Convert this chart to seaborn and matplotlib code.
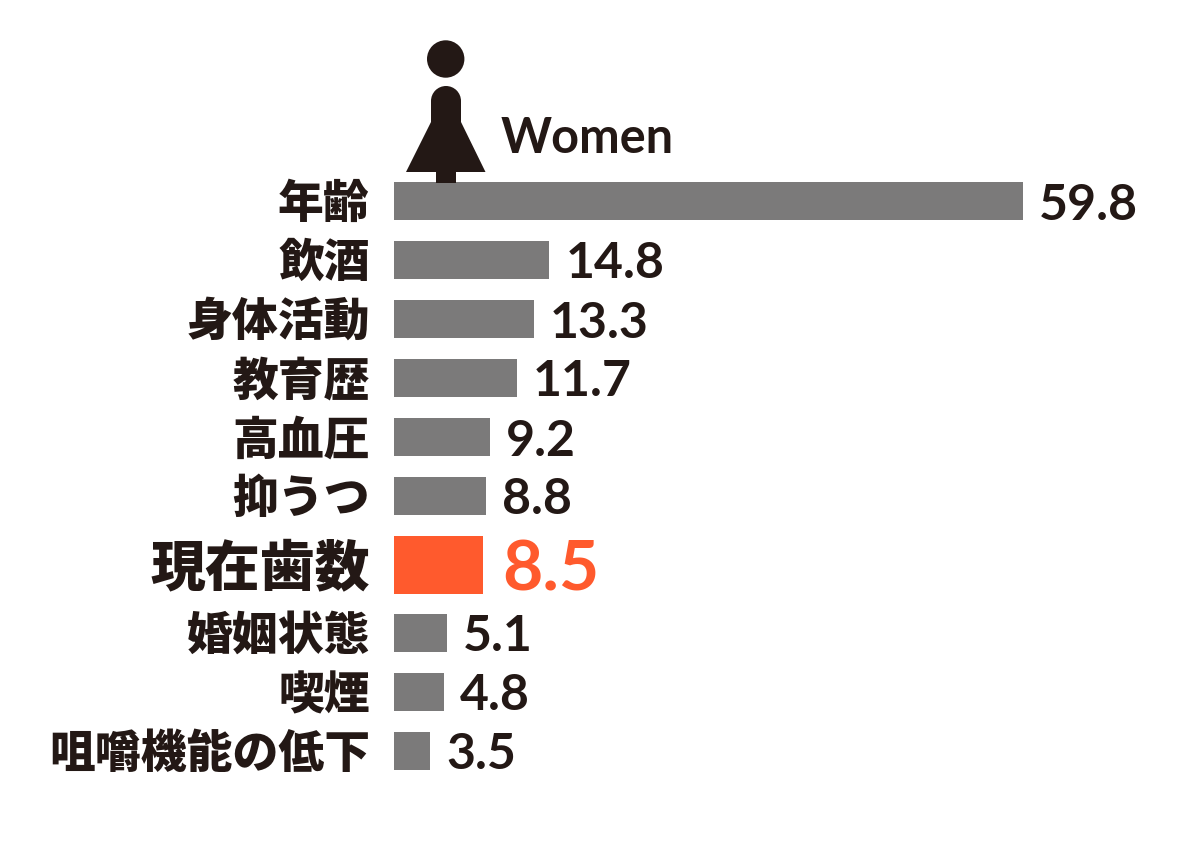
import matplotlib
matplotlib.use("Agg")
import matplotlib.pyplot as plt
import seaborn as sns
import pandas as pd
from matplotlib.patches import Circle, Polygon
from matplotlib.transforms import Affine2D, ScaledTranslation

categories = ["年齢", "飲酒", "身体活動", "教育歴", "高血圧", "抑うつ", "現在歯数", "婚姻状態", "喫煙", "咀嚼機能の低下"]
values = [59.8, 14.8, 13.3, 11.7, 9.2, 8.8, 8.5, 5.1, 4.8, 3.5]
value_labels = ["59.8", "14.8", "13.3", "11.7", "9.2", "8.8", "8.5", "5.1", "4.8", "3.5"]
highlight = "現在歯数"
legend_label = "Women"

GREY = "#7b7a7a"
ORANGE = "#ff5a2d"
INK = "#231815"
W, H = 1200, 850
X0 = 393.5
PX_PER_UNIT = 10.53
ROW = 59.0

sns.set_theme(style="white")
plt.rcParams["font.family"] = ["Noto Sans CJK JP", "DejaVu Sans"]

rows = []
pos = 0.0
for c in categories:
    if c == highlight:
        pos += 0.17
    rows.append(pos)
    pos += 1.0
    if c == highlight:
        pos += 0.15

df = pd.DataFrame({"cat": categories, "val": values, "row": rows})
palette = {c: (ORANGE if c == highlight else GREY) for c in categories}

fig = plt.figure(figsize=(W / 100, H / 100), dpi=100, facecolor="white")
ax = fig.add_axes([X0 / W, 0, (W - X0) / W, 1])
sns.barplot(data=df, x="val", y="row", hue="cat", palette=palette, orient="y",
            native_scale=True, dodge=False, width=38 / ROW, saturation=1,
            legend=False, ax=ax)
ax.set_xlim(0, (W - X0) / PX_PER_UNIT)
ax.set_ylim((H - 201) / ROW, -201 / ROW)
ax.set_xlabel("")
ax.set_ylabel("")
ax.set_xticks([])
for s in ax.spines.values():
    s.set_visible(False)

for p in ax.patches:
    p.set_linewidth(0)
    if abs(p.get_width() - values[categories.index(highlight)]) < 1e-9:
        c = p.get_y() + p.get_height() / 2
        h = 58 / ROW
        p.set_height(h)
        p.set_y(c - h / 2)

ax.set_yticks(rows)
ax.set_yticklabels(categories)
ax.tick_params(axis="y", length=0, pad=17)
up = ScaledTranslation(0, 1 / 72, fig.dpi_scale_trans)
for lab, c in zip(ax.get_yticklabels(), categories):
    lab.set_fontweight("black")
    lab.set_color(INK)
    lab.set_fontsize(39.5 if c == highlight else 33)
    lab.set_transform(lab.get_transform() + up)

for c, v, r, t in zip(categories, values, rows, value_labels):
    hi = c == highlight
    ax.annotate(t, xy=(v, r), xytext=(14 if hi else 11.5, 0), textcoords="offset points",
                va="center_baseline", ha="left", family="Lato", weight="bold",
                fontsize=50 if hi else 36, color=ORANGE if hi else INK)

px = Affine2D().scale(1, -1).translate(0, H)
icon = [
    Circle((445.7, 59), 18.7),
    Circle((446, 101), 15),
    Polygon([(431, 101), (461, 101), (461, 122), (485.5, 172), (456, 172), (456, 183),
             (436, 183), (436, 172), (406, 172), (431, 122)], closed=True),
]
for a in icon:
    a.set_transform(px)
    a.set_facecolor(INK)
    a.set_edgecolor("none")
    fig.add_artist(a)
fig.text(501 / W, 1 - 153 / H, legend_label, family="Lato", weight="bold", fontsize=35,
         color=INK, ha="left", va="baseline")

fig.savefig("out.png", dpi=100, facecolor="white")
